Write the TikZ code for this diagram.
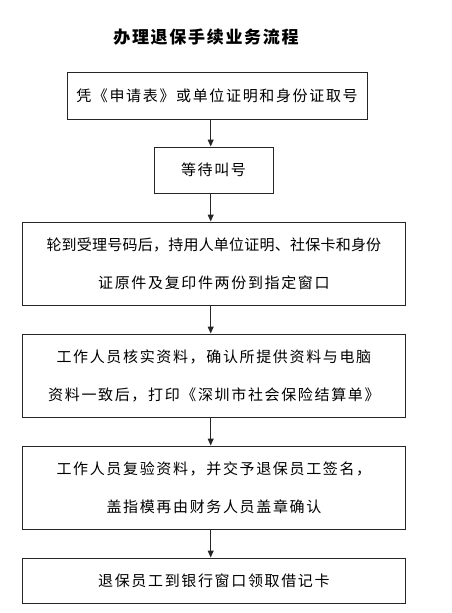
\documentclass[tikz,border=0pt]{standalone}
\usepackage{fontspec}
\setmainfont{Noto Sans CJK SC}
\newfontfamily\bodyfont[LetterSpace=11]{Noto Sans CJK SC}
\newfontfamily\tightfont[LetterSpace=1.5]{Noto Sans CJK SC}
\newfontfamily\titlefont[LetterSpace=10]{Noto Sans CJK SC}
\usetikzlibrary{arrows.meta}

\begin{document}
\begin{tikzpicture}[x=1pt, y=-1pt,
    stepbox/.style={draw=black!85, line width=1pt, minimum width=383.7pt,
        align=center, inner sep=0pt, font=\bodyfont\fontsize{15}{38}\selectfont},
    flow/.style={-{Triangle[length=7pt,width=6pt]}, draw=black!85, line width=1pt}]
    \useasboundingbox (0, 0) rectangle (452, 613);

    \node[font=\titlefont\bfseries\fontsize{17}{21}\selectfont] (title) at (206, 37) {办理退保手续业务流程};

    % Steps
    \node[stepbox, minimum width=300pt, minimum height=47pt] (apply) at (217, 95.5) {凭《申请表》或单位证明和身份证取号};
    \node[stepbox, minimum width=119pt, minimum height=46pt] (wait) at (213.5, 170) {等待叫号};
    \node[stepbox, minimum height=83pt] (window) at (213.9, 263.5) {
        {\tightfont 轮到受理号码后，持用人单位证明、社保卡和身份}\\
        证原件及复印件两份到指定窗口};
    \node[stepbox, minimum height=83pt] (verify) at (213.9, 375.5) {
        工作人员核实资料，确认所提供资料与电脑\\
        资料一致后，打印《深圳市社会保险结算单》};
    \node[stepbox, minimum height=83pt] (sign) at (213.9, 487.5) {
        工作人员复验资料，并交予退保员工签名，\\
        盖指模再由财务人员盖章确认};
    \node[stepbox, minimum height=45pt] (bank) at (213.9, 580.5) {退保员工到银行窗口领取借记卡};

    % Arrows
    \coordinate (axis) at (210.7, 0);
    \foreach \a/\b in {apply/wait, wait/window, window/verify, verify/sign, sign/bank}
        \draw[flow] (\a.south -| axis) -- (\b.north -| axis);
\end{tikzpicture}
\end{document}
